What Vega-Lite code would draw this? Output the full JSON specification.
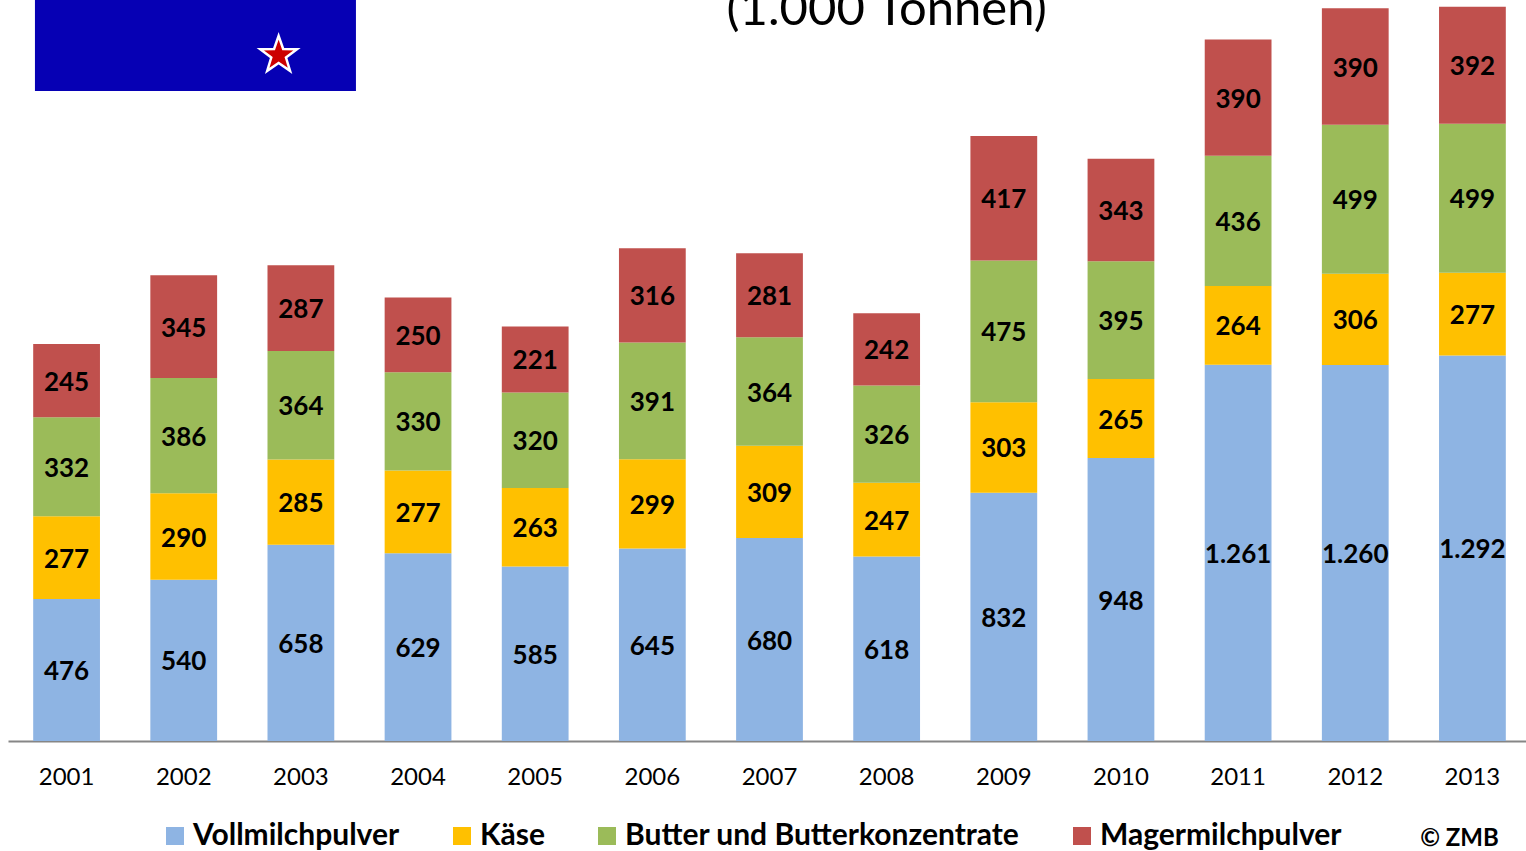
{
"$schema":"https://vega.github.io/schema/vega-lite/v6.json",
"width":1523,"height":741,
"autosize":{"type":"none"},
"padding":{"left":8,"top":0,"right":0,"bottom":110},
"background":"white",
"config":{"view":{"stroke":null},"font":"Lato"},
"datasets":{
"bars":[
{"y":"2001","s":"Vollmilchpulver","o":1,"v":476,"l":"476"},{"y":"2001","s":"Käse","o":2,"v":277,"l":"277"},{"y":"2001","s":"Butter und Butterkonzentrate","o":3,"v":332,"l":"332"},{"y":"2001","s":"Magermilchpulver","o":4,"v":245,"l":"245"},
{"y":"2002","s":"Vollmilchpulver","o":1,"v":540,"l":"540"},{"y":"2002","s":"Käse","o":2,"v":290,"l":"290"},{"y":"2002","s":"Butter und Butterkonzentrate","o":3,"v":386,"l":"386"},{"y":"2002","s":"Magermilchpulver","o":4,"v":345,"l":"345"},
{"y":"2003","s":"Vollmilchpulver","o":1,"v":658,"l":"658"},{"y":"2003","s":"Käse","o":2,"v":285,"l":"285"},{"y":"2003","s":"Butter und Butterkonzentrate","o":3,"v":364,"l":"364"},{"y":"2003","s":"Magermilchpulver","o":4,"v":287,"l":"287"},
{"y":"2004","s":"Vollmilchpulver","o":1,"v":629,"l":"629"},{"y":"2004","s":"Käse","o":2,"v":277,"l":"277"},{"y":"2004","s":"Butter und Butterkonzentrate","o":3,"v":330,"l":"330"},{"y":"2004","s":"Magermilchpulver","o":4,"v":250,"l":"250"},
{"y":"2005","s":"Vollmilchpulver","o":1,"v":585,"l":"585"},{"y":"2005","s":"Käse","o":2,"v":263,"l":"263"},{"y":"2005","s":"Butter und Butterkonzentrate","o":3,"v":320,"l":"320"},{"y":"2005","s":"Magermilchpulver","o":4,"v":221,"l":"221"},
{"y":"2006","s":"Vollmilchpulver","o":1,"v":645,"l":"645"},{"y":"2006","s":"Käse","o":2,"v":299,"l":"299"},{"y":"2006","s":"Butter und Butterkonzentrate","o":3,"v":391,"l":"391"},{"y":"2006","s":"Magermilchpulver","o":4,"v":316,"l":"316"},
{"y":"2007","s":"Vollmilchpulver","o":1,"v":680,"l":"680"},{"y":"2007","s":"Käse","o":2,"v":309,"l":"309"},{"y":"2007","s":"Butter und Butterkonzentrate","o":3,"v":364,"l":"364"},{"y":"2007","s":"Magermilchpulver","o":4,"v":281,"l":"281"},
{"y":"2008","s":"Vollmilchpulver","o":1,"v":618,"l":"618"},{"y":"2008","s":"Käse","o":2,"v":247,"l":"247"},{"y":"2008","s":"Butter und Butterkonzentrate","o":3,"v":326,"l":"326"},{"y":"2008","s":"Magermilchpulver","o":4,"v":242,"l":"242"},
{"y":"2009","s":"Vollmilchpulver","o":1,"v":832,"l":"832"},{"y":"2009","s":"Käse","o":2,"v":303,"l":"303"},{"y":"2009","s":"Butter und Butterkonzentrate","o":3,"v":475,"l":"475"},{"y":"2009","s":"Magermilchpulver","o":4,"v":417,"l":"417"},
{"y":"2010","s":"Vollmilchpulver","o":1,"v":948,"l":"948"},{"y":"2010","s":"Käse","o":2,"v":265,"l":"265"},{"y":"2010","s":"Butter und Butterkonzentrate","o":3,"v":395,"l":"395"},{"y":"2010","s":"Magermilchpulver","o":4,"v":343,"l":"343"},
{"y":"2011","s":"Vollmilchpulver","o":1,"v":1261,"l":"1.261"},{"y":"2011","s":"Käse","o":2,"v":264,"l":"264"},{"y":"2011","s":"Butter und Butterkonzentrate","o":3,"v":436,"l":"436"},{"y":"2011","s":"Magermilchpulver","o":4,"v":390,"l":"390"},
{"y":"2012","s":"Vollmilchpulver","o":1,"v":1260,"l":"1.260"},{"y":"2012","s":"Käse","o":2,"v":306,"l":"306"},{"y":"2012","s":"Butter und Butterkonzentrate","o":3,"v":499,"l":"499"},{"y":"2012","s":"Magermilchpulver","o":4,"v":390,"l":"390"},
{"y":"2013","s":"Vollmilchpulver","o":1,"v":1292,"l":"1.292"},{"y":"2013","s":"Käse","o":2,"v":277,"l":"277"},{"y":"2013","s":"Butter und Butterkonzentrate","o":3,"v":499,"l":"499"},{"y":"2013","s":"Magermilchpulver","o":4,"v":392,"l":"392"}
]},
"resolve":{"scale":{"x":"independent"},"axis":{"x":"independent"}},
"layer":[
{"data":{"name":"bars"},
"layer":[
{"mark":{"type":"bar","stroke":null},
"encoding":{
"x":{"field":"y","type":"nominal","title":null,"scale":{"paddingInner":0.43,"paddingOuter":0.215},
"axis":{"labelAngle":0,"labelFontSize":24,"labelColor":"#000","labelPadding":24,"ticks":false,"domainColor":"#868686","domainWidth":2,"labelFont":"Lato"}},
"y":{"field":"v","type":"quantitative","stack":"zero","scale":{"domain":[0,2483],"nice":false},"axis":null},
"color":{"field":"s","type":"nominal","sort":["Vollmilchpulver","Käse","Butter und Butterkonzentrate","Magermilchpulver"],
"scale":{"domain":["Vollmilchpulver","Käse","Butter und Butterkonzentrate","Magermilchpulver"],"range":["#8EB4E3","#FFC000","#9BBB59","#C0504D"]},
"legend":{"title":null,"orient":"none","legendX":152,"legendY":821,"direction":"horizontal","symbolType":"square","symbolSize":324,"symbolStrokeWidth":0,"labelFontSize":30,"labelFontWeight":"bold","labelColor":"#000","labelFont":"Lato","columnPadding":47,"labelOffset":3,"columns":4,"labelLimit":600}},
"order":{"field":"o","type":"quantitative"}
}},
{"mark":{"type":"text","fontSize":26,"fontWeight":"bold","color":"#000","font":"Lato","dy":2},
"encoding":{
"x":{"field":"y","type":"nominal"},
"y":{"field":"v","type":"quantitative","stack":"zero","bandPosition":0.5},
"detail":{"field":"s"},
"order":{"field":"o","type":"quantitative"},
"text":{"field":"l"}
}}
]},
{"data":{"values":[{"a":2000.73,"b":2003.47,"c":2178,"d":2483}]},
"mark":{"type":"rect","color":"#0600B4"},
"encoding":{
"x":{"field":"a","type":"quantitative","scale":{"domain":[2000.5,2013.5],"nice":false,"zero":false},"axis":null},
"x2":{"field":"b"},
"y":{"field":"c","type":"quantitative"},"y2":{"field":"d"}
}},
{"data":{"values":[{"a":2002.81,"c":2298}]},
"mark":{"type":"point","shape":"M0,-1L0.235,-0.32L0.95,-0.31L0.38,0.12L0.59,0.81L0,0.4L-0.59,0.81L-0.38,0.12L-0.95,-0.31L-0.235,-0.32Z","filled":true,"color":"#CC0000","stroke":"#FFFFFF","strokeWidth":2.5,"size":1500,"opacity":1},
"encoding":{
"x":{"field":"a","type":"quantitative","scale":{"domain":[2000.5,2013.5],"nice":false,"zero":false},"axis":null},
"y":{"field":"c","type":"quantitative"}
}},
{"data":{"values":[{"a":2008,"c":2400,"t":"(1.000 Tonnen)"}]},
"mark":{"type":"text","fontSize":49,"align":"center","baseline":"alphabetic","color":"#000","font":"Lato"},
"encoding":{
"x":{"field":"a","type":"quantitative","scale":{"domain":[2000.5,2013.5],"nice":false,"zero":false},"axis":null},
"y":{"field":"c","type":"quantitative"},
"text":{"field":"t"}
}},
{"data":{"values":[{"a":2012.89,"c":-328,"t":"© ZMB"}]},
"mark":{"type":"text","fontSize":24,"fontWeight":"bold","align":"center","baseline":"middle","color":"#000","font":"Lato"},
"encoding":{
"x":{"field":"a","type":"quantitative","scale":{"domain":[2000.5,2013.5],"nice":false,"zero":false},"axis":null},
"y":{"field":"c","type":"quantitative"},
"text":{"field":"t"}
}}
]
}
